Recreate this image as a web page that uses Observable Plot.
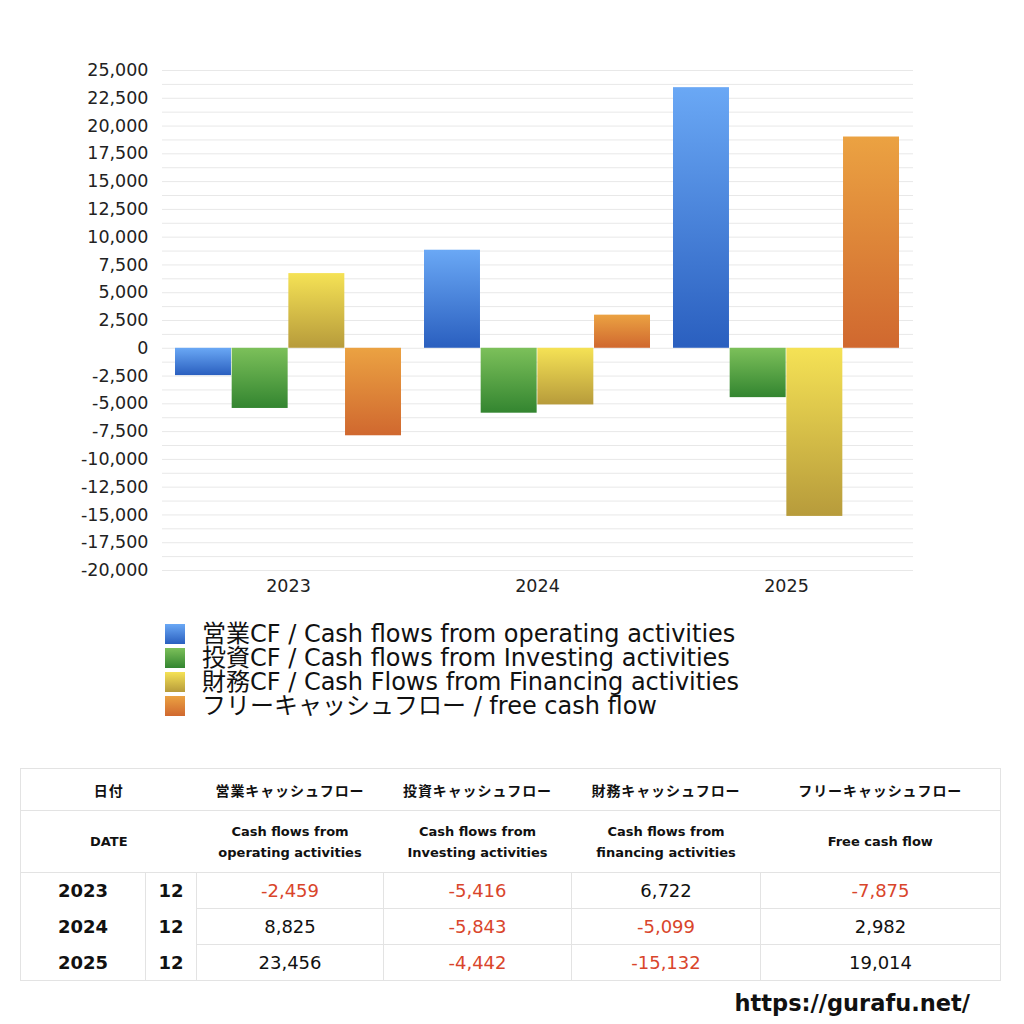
<!DOCTYPE html>
<html>
<head>
<meta charset="utf-8">
<script src="https://cdn.jsdelivr.net/npm/d3@7"></script>
<script src="https://cdn.jsdelivr.net/npm/@observablehq/plot@0.6"></script>
<style>
  body { margin: 0; background: #fff; font-family: "DejaVu Sans", "Noto Sans CJK JP", sans-serif; color: #111; }
  #wrap { position: relative; width: 1024px; height: 1024px; }
  #chart { position: absolute; left: 0; top: 0; }
  #legend { position: absolute; left: 165px; top: 622px; }
  .lg { display: flex; align-items: center; height: 24px; font-size: 24px; line-height: 24px; color: #111; white-space: nowrap; }
  .sw { width: 20px; height: 20px; margin-right: 17px; flex: none; }
  #tbl { position: absolute; left: 20px; top: 768px; border-collapse: collapse; table-layout: fixed; }
  #tbl td { padding: 0; text-align: center; border: 1px solid #e3e3e3; }
  #tbl tr.h1 td { height: 41px; font-size: 14px; font-weight: 700; letter-spacing: 0.9px; border-left: none; border-right: none; font-family: "Noto Sans CJK JP", sans-serif; }
  #tbl tr.h2 td { height: 61px; font-size: 13px; font-weight: 700; line-height: 21px; border-left: none; border-right: none; }
  #tbl tr.d td { height: 35px; font-size: 18px; }
  #tbl tr.d td.yr { font-weight: 700; }
  #tbl tr.d td.mo { font-weight: 700; }
  #tbl tr.nt td.yr, #tbl tr.nt td.mo { border-top: none; }
  #tbl tr.nb td.yr, #tbl tr.nb td.mo { border-bottom: none; }
  #tbl td.first { border-left: 1px solid #e3e3e3 !important; }
  #tbl td.last { border-right: 1px solid #e3e3e3 !important; }
  .neg { color: #d9452b; }
  #url { position: absolute; right: 54px; top: 988px; font-size: 22.5px; font-weight: 700; color: #111; line-height: 30px; }
</style>
</head>
<body>
<div id="wrap">
  <div id="chart"></div>
  <div id="legend"></div>
  <table id="tbl"></table>
  <div id="url">https://gurafu.net/</div>
</div>
<script>
const years = ["2023", "2024", "2025"];
const months = ["12", "12", "12"];
const operating = [-2459, 8825, 23456];
const investing = [-5416, -5843, -4442];
const financing = [6722, -5099, -15132];
const freeCF = [-7875, 2982, 19014];
const seriesKeys = ["operating", "investing", "financing", "freeCF"];
const seriesValues = [operating, investing, financing, freeCF];
const legendLabels = [
  "営業CF / Cash flows from operating activities",
  "投資CF / Cash flows from Investing activities",
  "財務CF / Cash Flows from Financing activities",
  "フリーキャッシュフロー / free cash flow"
];
const headerJa = ["営業キャッシュフロー", "投資キャッシュフロー", "財務キャッシュフロー", "フリーキャッシュフロー"];
const headerEn = ["Cash flows from<br>operating activities", "Cash flows from<br>Investing activities", "Cash flows from<br>financing activities", "Free cash flow"];
const yTicks = [-20000, -17500, -15000, -12500, -10000, -7500, -5000, -2500, 0, 2500, 5000, 7500, 10000, 12500, 15000, 17500, 20000, 22500, 25000];
const gridValues = [-20000, -18750, -17500, -16250, -15000, -13750, -12500, -11250, -10000, -8750, -7500, -6250, -5000, -3750, -2500, -1250, 0, 1250, 2500, 3750, 5000, 6250, 7500, 8750, 10000, 11250, 12500, 13750, 15000, 16250, 17500, 18750, 20000, 21250, 22500, 23750, 25000];
const gradTop = ["#6aa8f5", "#7cc05a", "#f5e255", "#eba242"];
const gradBottom = ["#2a5fbf", "#338530", "#b79b3b", "#d0682f"];

const rows = years.map((y, j) => {
  const r = {year: y};
  seriesKeys.forEach((k, i) => r[k] = seriesValues[i][j]);
  return r;
});

const W = 1024, H = 610, mL = 162, mR = 111, mT = 70, mB = 40;
const xOpts = {type: "band", domain: years, range: [mL, W - mR], paddingInner: 0.092, paddingOuter: 0.05};
const bw = Plot.scale({x: xOpts}).bandwidth;
const w = bw / 4;
const fmt = d => d.toLocaleString("en-US");
const font = '"DejaVu Sans", "Noto Sans CJK JP", sans-serif';

const chart = Plot.plot({
  width: W, height: H,
  marginLeft: mL, marginRight: mR, marginTop: mT, marginBottom: mB,
  style: {fontSize: "17.5px", fontFamily: font, color: "#222", background: "#fff"},
  x: {domain: years, paddingInner: 0.092, paddingOuter: 0.05, label: null, tickSize: 0, tickPadding: 9},
  y: {domain: [-20000, 25000], ticks: yTicks, tickFormat: fmt, label: null, tickSize: 0, tickPadding: 14},
  marks: [
    Plot.ruleY(gridValues, {stroke: "#e8e8e8", strokeWidth: 1}),
    ...seriesKeys.map((k, i) => Plot.barY(rows, {
      x: "year", y: k,
      insetLeft: i * w, insetRight: (3 - i) * w,
      fill: `url(#grad${i})`
    }))
  ]
});

const defs = d3.select(chart).insert("defs", ":first-child");
gradTop.forEach((c, i) => {
  const g = defs.append("linearGradient").attr("id", `grad${i}`).attr("x1", 0).attr("y1", 0).attr("x2", 0).attr("y2", 1);
  g.append("stop").attr("offset", "0%").attr("stop-color", c);
  g.append("stop").attr("offset", "100%").attr("stop-color", gradBottom[i]);
});
document.getElementById("chart").appendChild(chart);

// Legend
const legend = document.getElementById("legend");
legendLabels.forEach((t, i) => {
  const row = document.createElement("div");
  row.className = "lg";
  row.innerHTML = `<div class="sw" style="background:linear-gradient(${gradTop[i]}, ${gradBottom[i]})"></div><span>${t}</span>`;
  legend.appendChild(row);
});

// Table
const colW = [125, 51, 187, 188, 189, 240];
let html = "<colgroup>" + colW.map(c => `<col style="width:${c}px">`).join("") + "</colgroup>";
html += `<tr class="h1"><td colspan="2" class="first">日付</td>` + headerJa.map((h, i) => `<td class="${i === 3 ? "last" : ""}">${h}</td>`).join("") + "</tr>";
html += `<tr class="h2"><td colspan="2" class="first">DATE</td>` + headerEn.map((h, i) => `<td class="${i === 3 ? "last" : ""}">${h}</td>`).join("") + "</tr>";
years.forEach((y, j) => {
  const cls = ["d", j > 0 ? "nt" : "", j < years.length - 1 ? "nb" : ""].join(" ");
  html += `<tr class="${cls}"><td class="yr first">${y}</td><td class="mo">${months[j]}</td>` +
    seriesValues.map((s, i) => `<td class="${s[j] < 0 ? "neg" : ""} ${i === 3 ? "last" : ""}">${fmt(s[j])}</td>`).join("") + "</tr>";
});
document.getElementById("tbl").innerHTML = html;
</script>
</body>
</html>
